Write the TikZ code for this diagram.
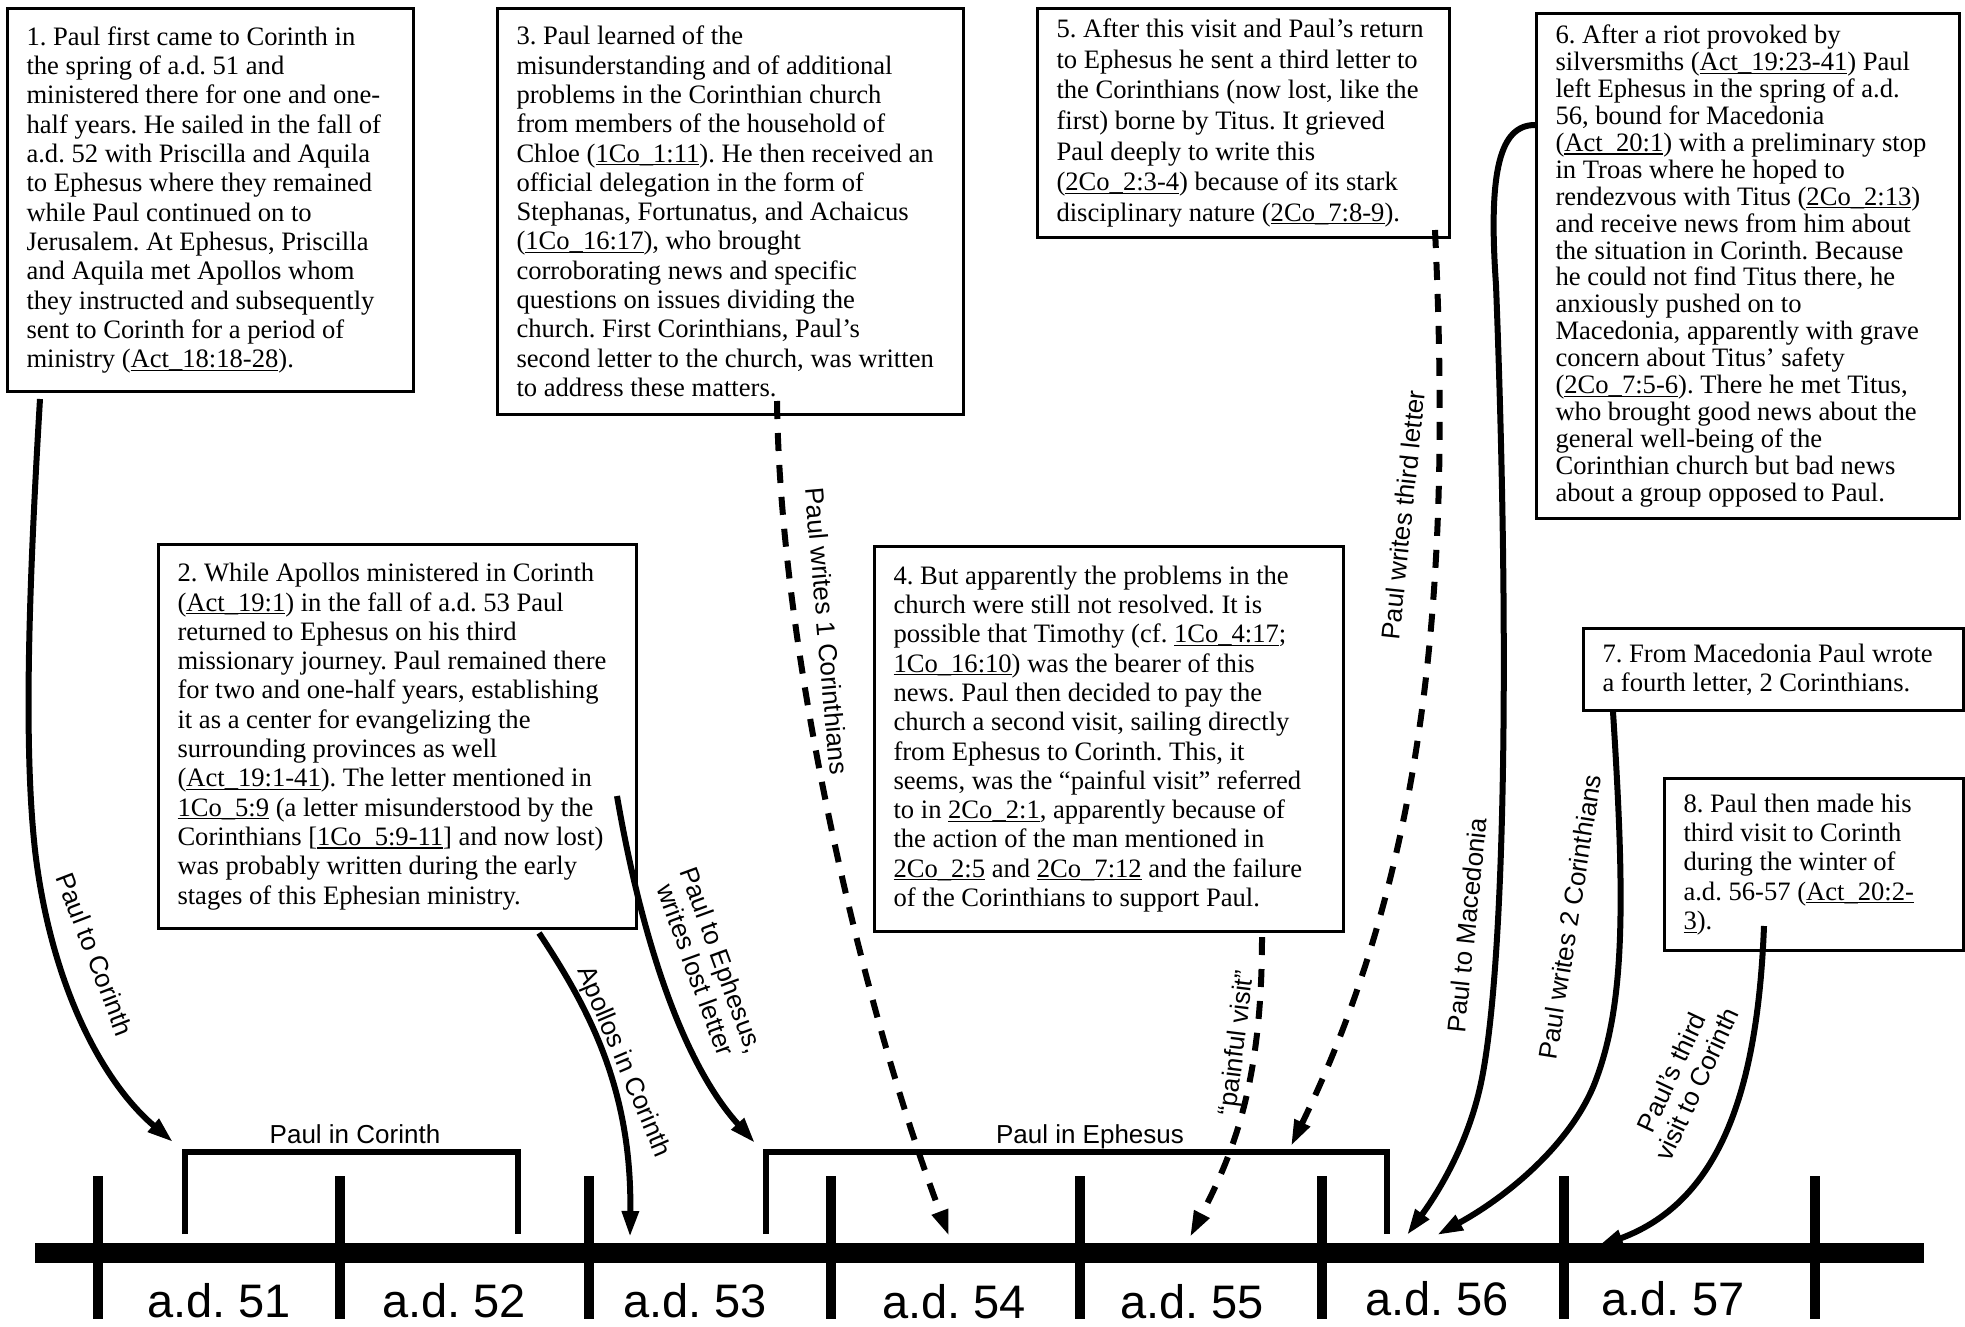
\documentclass[tikz,border=0pt]{standalone}
\usepackage{fontspec}
\setmainfont{Liberation Serif}
\setsansfont{Liberation Sans}
\usetikzlibrary{arrows.meta,calc}
\frenchspacing
\newsavebox{\vrefbox}
\newcommand{\vref}[1]{\leavevmode\sbox{\vrefbox}{#1}\rlap{\rule[-1.6pt]{\wd\vrefbox}{0.6pt}}\usebox{\vrefbox}}

\begin{document}
\begin{tikzpicture}[x=0.5pt, y=-0.5pt,
  notebox/.style={draw, line width=1.5pt, anchor=north west, align=flush left,
    inner xsep=9.5pt, inner ysep=0pt, font=\fontsize{13.3}{14.65}\selectfont},
  arr/.style={line width=3pt, -{Triangle[length=13pt,width=8pt]}},
  dasharr/.style={arr, dash pattern=on 9pt off 7pt},
  lbl/.style={font=\sffamily\fontsize{13}{14}\selectfont, align=flush center, inner sep=0pt},
  spanlbl/.style={font=\sffamily\fontsize{13}{14}\selectfont, anchor=base, inner sep=0pt},
  year/.style={font=\sffamily\fontsize{23.5}{26}\selectfont, anchor=base, inner sep=0pt}]
\useasboundingbox (0,0) rectangle (1965,1327);

\node[notebox, text width=184pt, minimum height=191.5pt] (n1) at (6,7) {1. Paul first came to Corinth in\\
the spring of a.d. 51 and\\
ministered there for one and one-\\
half years. He sailed in the fall of\\
a.d. 52 with Priscilla and Aquila\\
to Ephesus where they remained\\
while Paul continued on to\\
Jerusalem. At Ephesus, Priscilla\\
and Aquila met Apollos whom\\
they instructed and subsequently\\
sent to Corinth for a period of\\
ministry (\vref{Act\_18:18-28}).};

\node[notebox, text width=214pt, minimum height=203pt] (n3) at (496,7) {3. Paul learned of the\\
misunderstanding and of additional\\
problems in the Corinthian church\\
from members of the household of\\
Chloe (\vref{1Co\_1:11}). He then received an\\
official delegation in the form of\\
Stephanas, Fortunatus, and Achaicus\\
(\vref{1Co\_16:17}), who brought\\
corroborating news and specific\\
questions on issues dividing the\\
church. First Corinthians, Paul’s\\
second letter to the church, was written\\
to address these matters.};

\node[notebox, text width=187pt, minimum height=114.5pt, font=\fontsize{13.3}{15.3}\selectfont] (n5) at (1036,7) {5. After this visit and Paul’s return\\
to Ephesus he sent a third letter to\\
the Corinthians (now lost, like the\\
first) borne by Titus. It grieved\\
Paul deeply to write this\\
(\vref{2Co\_2:3-4}) because of its stark\\
disciplinary nature (\vref{2Co\_7:8-9}).};

\node[notebox, text width=192.5pt, minimum height=252.5pt, font=\fontsize{13.3}{13.45}\selectfont] (n6) at (1535,12) {6. After a riot provoked by\\
silversmiths (\vref{Act\_19:23-41}) Paul\\
left Ephesus in the spring of a.d.\\
56, bound for Macedonia\\
(\vref{Act\_20:1}) with a preliminary stop\\
in Troas where he hoped to\\
rendezvous with Titus (\vref{2Co\_2:13})\\
and receive news from him about\\
the situation in Corinth. Because\\
he could not find Titus there, he\\
anxiously pushed on to\\
Macedonia, apparently with grave\\
concern about Titus’ safety\\
(\vref{2Co\_7:5-6}). There he met Titus,\\
who brought good news about the\\
general well-being of the\\
Corinthian church but bad news\\
about a group opposed to Paul.};

\node[notebox, text width=220pt, minimum height=192pt] (n2) at (157,543) {2. While Apollos ministered in Corinth\\
(\vref{Act\_19:1}) in the fall of a.d. 53 Paul\\
returned to Ephesus on his third\\
missionary journey. Paul remained there\\
for two and one-half years, establishing\\
it as a center for evangelizing the\\
surrounding provinces as well\\
(\vref{Act\_19:1-41}). The letter mentioned in\\
\vref{1Co\_5:9} (a letter misunderstood by the\\
Corinthians [\vref{1Co\_5:9-11}] and now lost)\\
was probably written during the early\\
stages of this Ephesian ministry.};

\node[notebox, text width=215.5pt, minimum height=192.5pt] (n4) at (873,545) {4. But apparently the problems in the\\
church were still not resolved. It is\\
possible that Timothy (cf. \vref{1Co\_4:17};\\
\vref{1Co\_16:10}) was the bearer of this\\
news. Paul then decided to pay the\\
church a second visit, sailing directly\\
from Ephesus to Corinth. This, it\\
seems, was the “painful visit” referred\\
to in \vref{2Co\_2:1}, apparently because of\\
the action of the man mentioned in\\
\vref{2Co\_2:5} and \vref{2Co\_7:12} and the failure\\
of the Corinthians to support Paul.};

\node[notebox, text width=171pt, minimum height=41pt] (n7) at (1582,627) {7. From Macedonia Paul wrote\\
a fourth letter, 2 Corinthians.};

\node[notebox, text width=130.5pt, minimum height=86pt] (n8) at (1663,777) {8. Paul then made his\\
third visit to Corinth\\
during the winter of\\
a.d. 56-57 (\vref{Act\_20:2-}\\
\vref{3}).};

\draw[line width=10pt] (35,1253) -- (1924,1253);
\foreach \tx in {98,340,589,831,1080,1322,1564,1815}
  \draw[line width=5pt] (\tx,1176) -- (\tx,1319);
\foreach \yr/\xx/\yy in {51/219/1317, 52/454/1317, 53/695/1317, 54/954/1318, 55/1192/1318, 56/1437/1315, 57/1673/1315}
  \node[year] (y\yr) at (\xx,\yy) {a.d. \yr};

\draw[line width=3pt] (185,1234) -- (185,1152) -- (518,1152) -- (518,1234);
\node[spanlbl] (corinth) at (355,1143) {Paul in Corinth};
\draw[line width=3pt] (766,1234) -- (766,1152) -- (1387,1152) -- (1387,1234);
\node[spanlbl] (ephesus) at (1090,1143) {Paul in Ephesus};

\coordinate (tip-a) at (173,1142);
\coordinate (tip-b) at (630,1237);
\coordinate (tip-c) at (755,1143);
\coordinate (tip-d) at (949,1236);
\coordinate (tip-e) at (1190,1237);
\coordinate (tip-f) at (1291,1146);
\coordinate (tip-g) at (1407,1235);
\coordinate (tip-h) at (1437,1235);
\coordinate (tip-i) at (1597,1247);

\draw[arr] ($(n1.south west)+(34,6)$) .. controls (28,600) and (24,750) .. (35,850)
  .. controls (50,980) and (100,1080) .. (tip-a);
\draw[arr] ($(n2.south west)+(382,3)$) .. controls (590,1010) and (632,1090) .. (tip-b);
\draw[arr] ($(n2.north east)+(-21,253)$) .. controls (640,930) and (680,1060) .. (tip-c);
\draw[dasharr] ($(n3.south west)+(281,-15)$) .. controls (780,650) and (860,1000) .. (tip-d);
\draw[dasharr] ($(n4.south west)+(389,4)$) .. controls (1262,1080) and (1235,1150) .. (tip-e);
\draw[dasharr] ($(n5.south east)+(-16,-9)$) .. controls (1450,550) and (1435,850) .. (tip-f);
\draw[arr] ($(n6.north west)+(0,113)$) .. controls (1500,125) and (1488,170) .. (1496,285)
  .. controls (1510,650) and (1505,960) .. (1482,1078)
  .. controls (1470,1140) and (1440,1190) .. (tip-g);
\draw[arr] ($(n7.south west)+(31,0)$) .. controls (1625,900) and (1625,1000) .. (1597,1077)
  .. controls (1575,1140) and (1510,1195) .. (tip-h);
\draw[arr] ($(n8.south west)+(101,-26)$) .. controls (1758,1080) and (1725,1200) .. (tip-i);

\node[lbl, rotate=-69] (l-a) at (95,954) {Paul to Corinth};
\node[lbl, rotate=-67] (l-b) at (623,1062) {Apollos in Corinth};
\node[lbl, rotate=-70] (l-c) at (709,965) {Paul to Ephesus,\\writes lost letter};
\node[lbl, rotate=-85] (l-d) at (827,631) {Paul writes 1 Corinthians};
\node[lbl, rotate=83] (l-e) at (1238,1043) {“painful visit”};
\node[lbl, rotate=84] (l-f) at (1403,515) {Paul writes third letter};
\node[lbl, rotate=84] (l-g) at (1467,925) {Paul to Macedonia};
\node[lbl, rotate=81] (l-h) at (1570,917) {Paul writes 2 Corinthians};
\node[lbl, rotate=65] (l-i) at (1684,1078) {Paul's third\\visit to Corinth};
\end{tikzpicture}
\end{document}
